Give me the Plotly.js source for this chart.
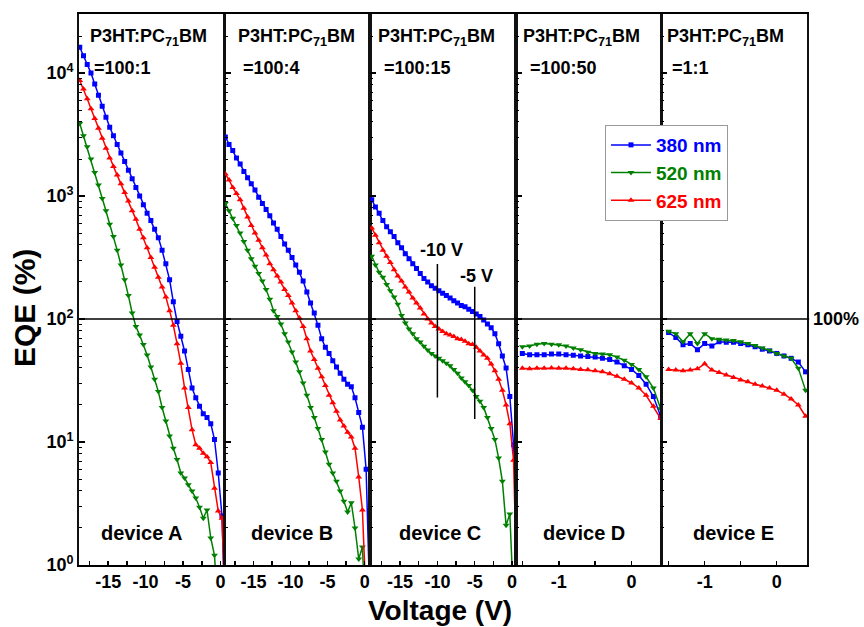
<!DOCTYPE html>
<html>
<head>
<meta charset="utf-8">
<script src="https://cdn.plot.ly/plotly-3.0.1.min.js"></script>
<style>html,body{margin:0;padding:0;background:#fff;}#chart{width:864px;height:627px;}</style>
</head>
<body>
<div id="chart"></div>
<script>
// Voltage grids (V)
var V_ABC = [-18.8,-18.3,-17.8,-17.3,-16.8,-16.3,-15.8,-15.3,-14.8,-14.3,-13.8,-13.3,-12.8,-12.3,-11.8,-11.3,-10.8,-10.3,-9.8,-9.3,-8.8,-8.3,-7.8,-7.3,-6.8,-6.3,-5.8,-5.3,-4.8,-4.3,-3.8,-3.3,-2.8,-2.3,-1.8,-1.3,-0.8,-0.3,0.2,0.7];
var V_DE = [-1.5,-1.4,-1.3,-1.2,-1.1,-1.0,-0.9,-0.8,-0.7,-0.6,-0.5,-0.4,-0.3,-0.2,-0.1,0,0.1,0.2,0.3,0.4];

// EQE (%) device A
var A380 = [16200,13800,11750,10000,8130,6610,5370,4365,3630,3090,2630,2240,1905,1620,1380,1175,1000,851,724,631,537,457,363,282,209,138,95.5,72.4,55,38.9,27.5,22.9,19.5,17,15.8,14.1,10.5,5.6,2.5,0.3];
var A520 = [3890,3090,2510,2000,1550,1230,955,759,589,468,363,275,209,155,112,87,74,62,51,40.7,32.4,25.7,19.1,14.8,11.2,8.9,7.2,5.6,5.1,4.5,4.0,3.5,2.95,2.4,2.8,1.66,1.2,0.4,0.3,0.3];
var A625 = [8710,7410,6170,5130,4270,3550,2950,2450,2040,1740,1480,1260,1070,912,759,646,537,457,380,316,263,219,182,151,117,89,63,43.6,27.5,19.1,12.6,9.5,8.9,8.1,7.6,6.8,4.2,2.75,2.4,0.3];
// device B
var B380 = [3020,2630,2340,2040,1820,1585,1410,1260,1120,977,871,776,692,603,537,468,407,363,316,275,240,204,166,135,112,89,69,59,52.5,45.7,40.7,36.3,32.4,29.5,28.2,22.9,17.4,13.2,6.0,0.5];
var B520 = [871,759,661,575,501,427,363,309,269,234,204,174,145,117,105,91,76,65,54,44.7,37.2,30.2,24,19.1,15.8,12.9,10.5,8.3,6.6,5.6,4.8,4.0,3.3,2.7,3.2,2.0,1.12,1.4,0.3,0.3];
var B625 = [1510,1350,1175,1047,933,794,676,575,501,437,380,331,282,251,224,200,174,155,135,117,102,87,69,55,46.8,39.8,33.9,28.8,24,20.9,17.8,15.1,13.5,12,11,8.9,5.2,2.8,0.5,0.3];
// device C
var C380 = [933,813,724,631,562,513,468,417,380,339,309,282,257,234,214,200,186,178,170,162,155,148,141,135,129,126,120,115,110,105,98,91,85,76,63,50,40,23.4,9.5,2];
var C520 = [324,275,240,219,191,170,151,132,107,93,83,76,69,65,60,56,52.5,50,48,45.7,43.6,41.7,38.9,36.3,33.1,30.9,28.8,26.3,23.4,21.4,19.1,15.8,12.9,10.5,7.4,4.8,2.1,2.6,0.5,0.3];
var C625 = [550,479,417,363,324,288,251,224,204,182,166,148,135,123,110,100,93,87,83,79,76,74,72,69,68,66,63,62,59,55,51,48,43,38,32.4,26.3,20,14.1,7.1,0.5];
// device D
var D380 = [52.5,51.3,51.3,51.3,51.9,51.9,51.3,50.7,50.1,49.5,49,47.9,46.8,44.7,41.7,38.9,34.7,29.5,23.4,16.2];
var D520 = [59.6,60.3,62.4,63.1,62.4,61.7,60.3,58.2,56.2,53.7,52.5,51.9,51.3,49,46.2,42.7,38.9,33.9,27.5,18.6];
var D625 = [39.8,39.5,39.8,39.8,40,39.8,39.8,39.4,38.9,38.6,38,37.2,35.9,34.3,32.4,30.2,27.5,24,19.5,15.5];
// device E
var E380 = [77.6,70.8,61.7,63.1,56.2,63.1,60.3,65.3,64.6,64.6,63.1,61.7,59.6,56.9,55,52.5,50.1,47.9,44.7,37.2];
var E520 = [79.4,75.9,65.3,75.9,63.1,75.9,69.2,68.4,67.6,66.8,65.3,63.1,61,58.2,55.6,52.5,50.1,47.9,39.8,26.3];
var E625 = [38.9,38.5,38,38.5,39.4,43.2,38.5,36.7,35.1,33.5,32,30.9,29.5,28.5,27.5,26.3,24.5,22.4,20,16.2];

// marker lines in device C
var guideV = [-10, -5];
var guideLow = [23, 15.4];
var guideHigh = [280, 183];

var seriesNames = ['380 nm','520 nm','625 nm'];
var colors = ['#0000ff','#008000','#ff0000'];
var symbols = ['square','triangle-down','triangle-up'];
var panelLabels = ['device A','device B','device C','device D','device E'];
var ratios = ['=100:1','=100:4','=100:15','=100:50','=1:1'];

var panels = [
  {x: V_ABC, ys: [A380, A520, A625]},
  {x: V_ABC, ys: [B380, B520, B625]},
  {x: V_ABC, ys: [C380, C520, C625]},
  {x: V_DE, ys: [D380, D520, D625]},
  {x: V_DE, ys: [E380, E520, E625]}
];

var FONT = 'Liberation Sans, Arial, sans-serif';
var traces = [];
panels.forEach(function(p, i){
  var sfx = i === 0 ? '' : String(i+1);
  p.ys.forEach(function(y, k){
    traces.push({
      x: p.x, y: y, xaxis: 'x'+sfx, yaxis: 'y'+sfx,
      type: 'scatter', mode: 'lines+markers',
      name: '<span style="color:'+colors[k]+'">'+seriesNames[k]+'</span>',
      legendgroup: seriesNames[k],
      showlegend: i === 0,
      line: {color: colors[k], width: 1.5},
      marker: {color: colors[k], symbol: symbols[k], size: symbols[k]==='square'?5:6}
    });
  });
});
guideV.forEach(function(v, j){
  traces.push({x:[v, v], y:[guideLow[j], guideHigh[j]], xaxis:'x3', yaxis:'y3', type:'scatter', mode:'lines',
    line:{color:'#000', width:1.5}, showlegend:false, hoverinfo:'skip'});
});

var yTickVals = [1,10,100,1000,10000];
var yTickText = ['10<sup>0</sup>','10<sup>1</sup>','10<sup>2</sup>','10<sup>3</sup>','10<sup>4</sup>'];
var yMinor = [];
[1,10,100,1000,10000].forEach(function(d){ for (var m=2;m<=9;m++){ if (d*m < 30000) yMinor.push(d*m); } });

var tickFont = {family: FONT, size: 18, color: '#000', weight: 'bold'};
var layout = {
  width: 864, height: 627,
  margin: {l: 79, r: 57, t: 14, b: 62},
  paper_bgcolor: '#fff', plot_bgcolor: '#fff',
  showlegend: true,
  legend: {x: 0.7225, y: 0.7985, xanchor: 'left', yanchor: 'top', bgcolor: '#fff',
    bordercolor: '#999', borderwidth: 1, font: {family: FONT, size: 19, weight: 'bold'},
    itemwidth: 40, tracegroupgap: 0},
  annotations: [],
  shapes: [{type:'line', xref:'paper', x0:0, x1:1.003, yref:'y', y0:100, y1:100, line:{color:'#000', width:1.5}}]
};
var domains = [[0,0.2],[0.2,0.4],[0.4,0.6],[0.6,0.8],[0.8,1]];
var xRanges = [[-18.9,0.55],[-18.9,0.75],[-19.0,0.5],[-1.59,0.41],[-1.6,0.42]];
for (var i=0;i<5;i++){
  var sfx = i === 0 ? '' : String(i+1);
  var small = i >= 3;
  layout['xaxis'+sfx] = {
    domain: domains[i], range: xRanges[i], anchor: 'y'+sfx,
    showline: true, mirror: true, linecolor: '#000', linewidth: 1.8,
    showgrid: false, zeroline: false,
    ticks: 'inside', ticklen: 4, tickwidth: 1.5, tickcolor: '#000',
    tickmode: 'array', tickvals: small ? [-1, 0] : [-15,-10,-5,0],
    ticktext: small ? ['-1','0'] : ['-15','-10','-5','0'],
    minor: {tickmode:'array', tickvals: small ? [-1.5,-0.5] : [-17.5,-12.5,-7.5,-2.5], ticks:'inside', ticklen:4, tickwidth:1.5, tickcolor:'#000'},
    tickfont: tickFont
  };
  layout['yaxis'+sfx] = {
    type: 'log', range: [0, 4.48], anchor: 'x'+sfx,
    showline: true, mirror: true, linecolor: '#111', linewidth: 1.8,
    showgrid: false, zeroline: false,
    ticks: 'inside', ticklen: 6, tickwidth: 1.5, tickcolor: '#000',
    tickmode: 'array', tickvals: yTickVals, ticktext: yTickText,
    showticklabels: i === 0,
    minor: {tickmode:'array', tickvals: yMinor, ticks:'inside', ticklen:3, tickwidth:1, tickcolor:'#000'},
    tickfont: tickFont
  };
  var x0 = [0.012,0.2154,0.4077,0.6069,0.8047][i];
  var x1 = [0.018,0.2223,0.416,0.6165,0.8116][i];
  var xc = [0.0865,0.2922,0.4963,0.6937,0.8984][i];
  layout.annotations.push({xref:'paper', yref:'paper', x:x0, y:0.957, xanchor:'left', yanchor:'middle', showarrow:false,
    text:'P3HT:PC<sub>71</sub>BM', font:{family:FONT, size:18, weight:'bold', color:'#000'}});
  layout.annotations.push({xref:'paper', yref:'paper', x:x1, y:0.902, xanchor:'left', yanchor:'middle', showarrow:false,
    text:ratios[i], font:{family:FONT, size:18, weight:'bold', color:'#000'}});
  layout.annotations.push({xref:'paper', yref:'paper', x:xc, y:0.058, xanchor:'center', yanchor:'middle', showarrow:false,
    text:panelLabels[i], font:{family:FONT, size:20, weight:'bold', color:'#000'}});
}
layout.annotations.push({xref:'paper', yref:'paper', x:0.4973, y:0.5717, xanchor:'center', yanchor:'middle', showarrow:false,
  text:'-10 V', font:{family:FONT, size:18, weight:'bold', color:'#000'}});
layout.annotations.push({xref:'paper', yref:'paper', x:0.5463, y:0.5245, xanchor:'center', yanchor:'middle', showarrow:false,
  text:'-5 V', font:{family:FONT, size:18, weight:'bold', color:'#000'}});
layout.annotations.push({xref:'paper', yref:'paper', x:1.005, y:0.4465, xanchor:'left', yanchor:'middle', showarrow:false,
  text:'100%', font:{family:FONT, size:18, weight:'bold', color:'#000'}});
layout.annotations.push({xref:'paper', yref:'paper', x:-0.0755, y:0.4664, xanchor:'center', yanchor:'middle', showarrow:false,
  textangle:-90, text:'EQE (%)', font:{family:FONT, size:30, weight:'bold', color:'#000'}});
layout.annotations.push({xref:'paper', yref:'paper', x:0.4959, y:-0.0817, xanchor:'center', yanchor:'middle', showarrow:false,
  text:'Voltage (V)', font:{family:FONT, size:28, weight:'bold', color:'#000'}});

Plotly.newPlot('chart', traces, layout, {staticPlot: true, displayModeBar: false});
</script>
</body>
</html>
